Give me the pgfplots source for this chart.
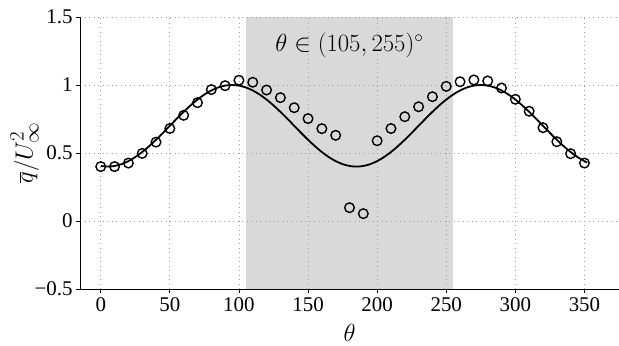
\documentclass[border=0pt]{standalone}
\usepackage{fontspec}
\setmainfont{Liberation Serif}
\usepackage{pgfplots}
\pgfplotsset{compat=1.18}
\definecolor{shade}{RGB}{217,217,217}
\begin{document}
\begin{tikzpicture}
\begin{axis}[
 scale only axis, width=539bp, height=272bp,
 xmin=-15, xmax=375, ymin=-0.5, ymax=1.5,
 axis lines*=left, set layers,
 xtick={0,50,...,350}, ytick={-0.5,0,0.5,1,1.5},
 yticklabels={−0.5,0,0.5,1,1.5},
 tick align=outside, major tick length=4bp,
 grid=major, grid style={dash pattern=on 0.9bp off 3.6bp, gray!75, line width=0.8bp},
 tick style={black, line width=0.8bp},
 axis line style={line width=0.9bp},
 ticklabel style={font=\fontsize{21}{24}\selectfont},
 xticklabel style={yshift=-1.5bp},
 /pgf/number format/assume math mode=true,
 xlabel={$\theta$}, ylabel={$\overline{q}/U_\infty^2$},
 label style={font=\fontsize{30}{32}\selectfont},
 xlabel style={at={(rel axis cs:0.5,-0.162)}, anchor=center},
 ylabel style={at={(rel axis cs:-0.103,0.5)}, anchor=center},
]
\addplot[draw=none, fill=shade, on layer=axis background] coordinates {(105,-0.5) (105,1.5) (255,1.5) (255,-0.5)} -- cycle;
\addplot[black, line width=1.8bp, smooth] coordinates {
(0,0.4046) (5,0.4) (10,0.4046) (15,0.4181) (20,0.4402) (25,0.4702) (30,0.5072) (35,0.55) (40,0.5974) (45,0.6479)
(50,0.7) (55,0.7521) (60,0.8026) (65,0.85) (70,0.8928) (75,0.9298) (80,0.9598) (85,0.9819) (90,0.9954) (95,1.0)
(100,0.9954) (105,0.9819) (110,0.9598) (115,0.9298) (120,0.8928) (125,0.85) (130,0.8026) (135,0.7521) (140,0.7) (145,0.6479)
(150,0.5974) (155,0.55) (160,0.5072) (165,0.4702) (170,0.4402) (175,0.4181) (180,0.4046) (185,0.4) (190,0.4046) (195,0.4181)
(200,0.4402) (205,0.4702) (210,0.5072) (215,0.55) (220,0.5974) (225,0.6479) (230,0.7) (235,0.7521) (240,0.8026) (245,0.85)
(250,0.8928) (255,0.9298) (260,0.9598) (265,0.9819) (270,0.9954) (275,1.0) (280,0.9954) (285,0.9819) (290,0.9598) (295,0.9298)
(300,0.8928) (305,0.85) (310,0.8026) (315,0.7521) (320,0.7) (325,0.6479) (330,0.5974) (335,0.55) (340,0.5072) (345,0.4702)
(350,0.4402) (352,0.4304)
};
\addplot[only marks, mark=o, mark size=4.8bp, mark options={black, line width=1.4bp}] coordinates {
(0,0.40) (10,0.40) (20,0.426) (30,0.497) (40,0.58) (50,0.68) (60,0.777) (70,0.87) (80,0.966) (90,0.995)
(100,1.035) (110,1.02) (120,0.963) (130,0.907) (140,0.833) (150,0.753) (160,0.679) (170,0.63) (180,0.098) (190,0.054)
(200,0.59) (210,0.68) (220,0.767) (230,0.84) (240,0.914) (250,0.99) (260,1.024) (270,1.037) (280,1.03) (290,0.978)
(300,0.895) (310,0.807) (320,0.686) (330,0.583) (340,0.495) (350,0.426)
};
\node[font=\fontsize{25}{28}\selectfont] at (axis cs:180,1.29) {$\theta\in(105,255)^\circ$};
\coordinate (ll) at (rel axis cs:0,0);
\coordinate (ur) at (rel axis cs:1,1);
\end{axis}
\pgfresetboundingbox
\path[use as bounding box] ([xshift=-80bp,yshift=-57bp]ll) rectangle ([yshift=17bp]ur);
\end{tikzpicture}
\end{document}
